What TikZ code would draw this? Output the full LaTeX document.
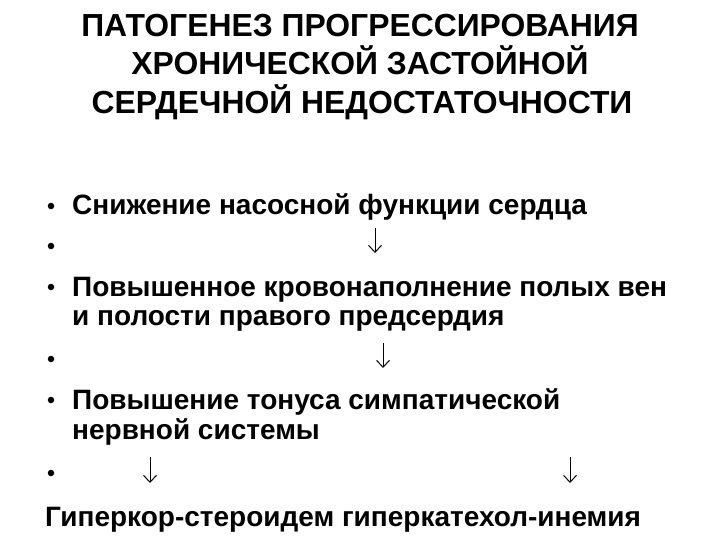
\documentclass[tikz,border=0pt]{standalone}
\usepackage{fontspec}
\setmainfont{Liberation Sans}
\usetikzlibrary{arrows.meta}
\begin{document}
\begin{tikzpicture}[x=1bp,y=-1bp,
  title/.style={anchor=base,inner sep=0,font=\fontsize{32}{32}\selectfont\bfseries},
  body/.style={anchor=base west,inner sep=0,font=\fontsize{28.1}{28}\selectfont\bfseries},
  dot/.style={circle,fill=black,inner sep=0,minimum size=6.5bp},
  down/.style={line width=1bp,-{Straight Barb[length=7bp,width=13bp,line width=1bp]}}]
\useasboundingbox[fill=white] (0,0) rectangle (720,540);
% title
\node[title] (t1) at (360,37) {ПАТОГЕНЕЗ ПРОГРЕССИРОВАНИЯ};
\node[title] (t2) at (360,75) {ХРОНИЧЕСКОЙ ЗАСТОЙНОЙ};
\node[title] (t3) at (362,114) {СЕРДЕЧНОЙ НЕДОСТАТОЧНОСТИ};
% bullets
\node[dot] (b1) at (51,206) {};
\node[dot] (b2) at (51,246) {};
\node[dot] (b3) at (51,287) {};
\node[dot] (b4) at (51,359) {};
\node[dot] (b5) at (51,400) {};
\node[dot] (b6) at (51,473) {};
% body
\node[body] (l1) at (72,215) {Снижение насосной функции сердца};
\node[body] (l2) at (72,296) {Повышенное кровонаполнение полых вен};
\node[body] (l2b) at (72,325) {и полости правого предсердия};
\node[body] (l3) at (72,409) {Повышение тонуса симпатической};
\node[body] (l3b) at (72,439) {нервной системы};
\node[body] (l4) at (45,526) {Гиперкор-стероидем гиперкатехол-инемия};
% arrows
\coordinate (a1s) at (375,228); \coordinate (a1e) at (375,253);
\coordinate (a2s) at (383,343); \coordinate (a2e) at (383,368);
\coordinate (a3s) at (150,457); \coordinate (a3e) at (150,483);
\coordinate (a4s) at (570,457); \coordinate (a4e) at (570,483);
\draw[down] (a1s) -- (a1e);
\draw[down] (a2s) -- (a2e);
\draw[down] (a3s) -- (a3e);
\draw[down] (a4s) -- (a4e);
\end{tikzpicture}
\end{document}
